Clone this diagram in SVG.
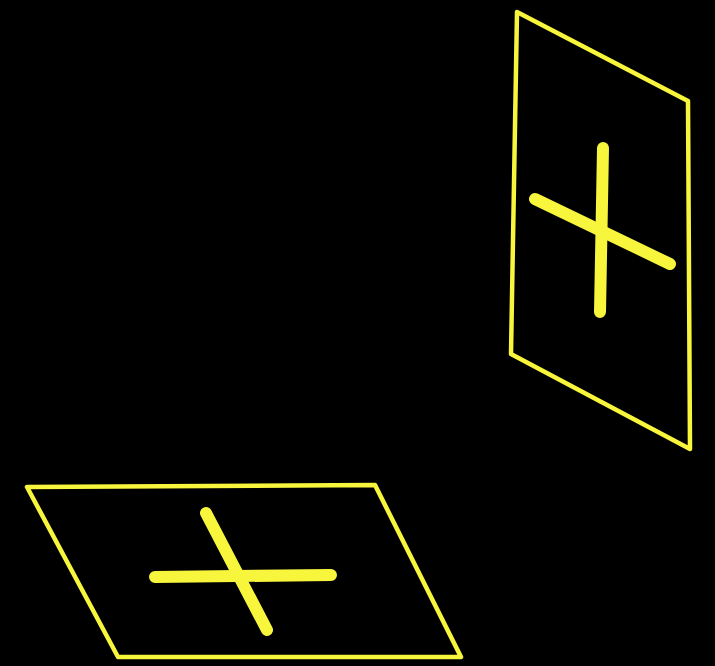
<svg xmlns="http://www.w3.org/2000/svg" width="715" height="666" viewBox="0 0 715 666">
<style>
.frame{fill:none;stroke:#f7f53c;stroke-width:4.5;stroke-linejoin:round;stroke-linecap:round}
.bar{fill:none;stroke:#f7f53c;stroke-width:12;stroke-linecap:round}
</style>
<rect width="715" height="666" fill="#000"/>
<g id="wall-panel">
<polygon class="frame" points="517,12 688,101 690,449 511,354"/>
<line class="bar" x1="603" y1="148" x2="600" y2="312"/>
<line class="bar" x1="535" y1="199" x2="670" y2="264"/>
</g>
<g id="floor-panel">
<polygon class="frame" points="27,487 375,485 461,657 118,657"/>
<line class="bar" x1="155" y1="577" x2="331" y2="575"/>
<line class="bar" x1="206" y1="513" x2="267" y2="630"/>
</g>
</svg>
